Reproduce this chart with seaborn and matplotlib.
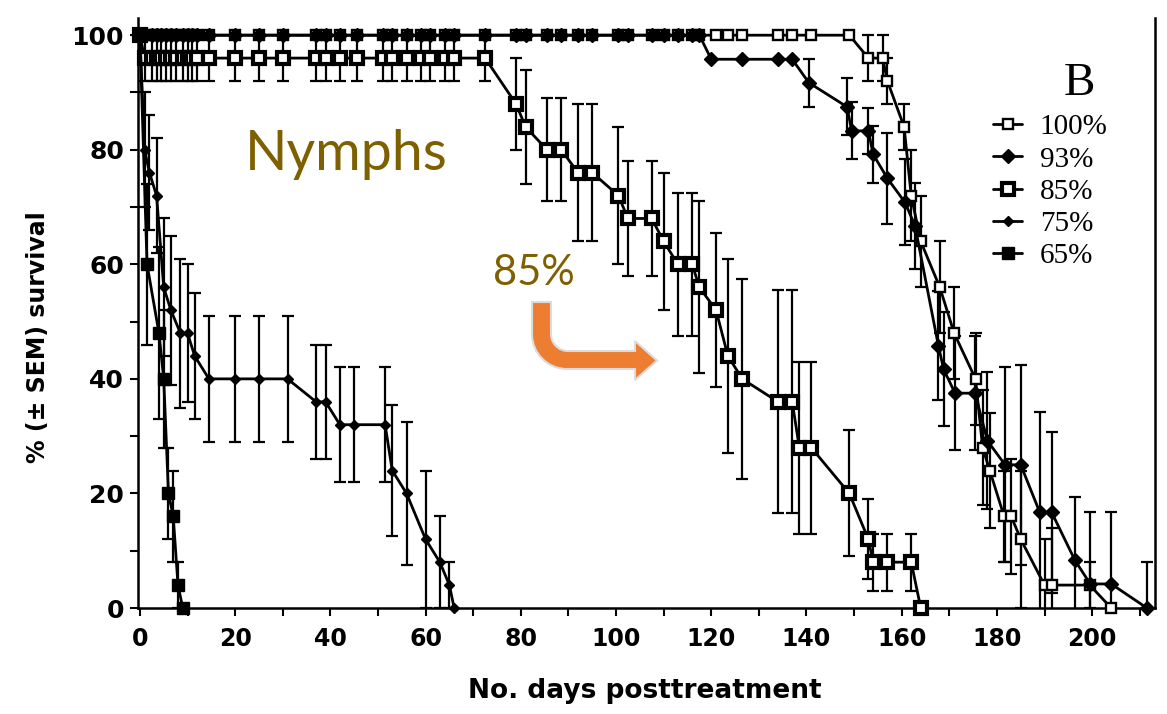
import numpy as np
import pandas as pd
import matplotlib
matplotlib.use("Agg")
import matplotlib.pyplot as plt
import matplotlib.transforms as mtransforms
from matplotlib.path import Path
from matplotlib.patches import PathPatch
from matplotlib.ticker import MultipleLocator
import seaborn as sns

# ------------------------------------------------------------------
# data (days posttreatment, % survival, SEM)
# ------------------------------------------------------------------
days_top = [0, 1, 2.5, 3.5, 4.5, 5.5, 6.5, 7.5, 9, 10, 11, 12, 14.5, 20, 25, 30,
            37, 39, 42, 45.5, 51, 53, 56, 59, 61, 64, 66, 72.5, 79, 81, 85.5,
            88.5, 92, 95, 100.5, 102.5, 107.5, 110, 113, 116, 117.5]

days_100 = days_top + [121, 123.5, 126.5, 134, 137, 141, 149, 153, 156, 157, 160.5,
                       162, 164, 168, 171, 175.5, 177, 178.5, 181.5, 183, 185, 190,
                       191.5, 199.5, 204]
surv_100 = [100, 100, 100, 100, 100, 100, 100, 100, 100, 100, 100, 100, 100, 100,
            100, 100, 100, 100, 100, 100, 100, 100, 100, 100, 100, 100, 100, 100,
            100, 100, 100, 100, 100, 100, 100, 100, 100, 100, 100, 100, 100,
            100, 100, 100, 100, 100, 100, 100, 96, 96, 92, 84, 72, 64, 56, 48, 40,
            28, 24, 16, 16, 12, 4, 4, 4, 0]
sem_100 = [0, 0, 0, 0, 0, 0, 0, 0, 0, 0, 0, 0, 0, 0, 0, 0, 0, 0, 0, 0, 0, 0, 0, 0,
           0, 0, 0, 0, 0, 0, 0, 0, 0, 0, 0, 0, 0, 0, 0, 0, 0,
           0, 0, 0, 0, 0, 0, 0, 4, 4, 4, 4, 8, 8, 8, 8, 8, 10, 10, 8, 10, 12, 8, 10,
           4, 0]

days_93 = days_top + [120, 126.5, 134, 137, 140.5, 148.5, 149.5, 153, 154, 157, 160.7,
                      162.8, 167.7, 168.8, 171.2, 175.4, 178, 181.7, 185, 189, 191.5,
                      196.4, 199.6, 204, 211.5]
surv_93 = [100, 100, 100, 100, 100, 100, 100, 100, 100, 100, 100, 100, 100, 100,
           100, 100, 100, 100, 100, 100, 100, 100, 100, 100, 100, 100, 100, 100,
           100, 100, 100, 100, 100, 100, 100, 100, 100, 100, 100, 100, 100,
           95.8, 95.8, 95.8, 95.8, 91.7, 87.5, 83.3, 83.3, 79.2, 75, 70.8, 66.7,
           45.8, 41.7, 37.5, 37.5, 29.2, 25, 25, 16.7, 16.7, 8.3, 4.2, 4.2, 0]
sem_93 = [0, 0, 0, 0, 0, 0, 0, 0, 0, 0, 0, 0, 0, 0, 0, 0, 0, 0, 0, 0, 0, 0, 0, 0,
          0, 0, 0, 0, 0, 0, 0, 0, 0, 0, 0, 0, 0, 0, 0, 0, 0,
          0, 0, 0, 0, 4.2, 5, 5, 4, 5, 8, 7.5, 7.5, 9.5, 10, 10, 10, 12, 17, 17.5,
          17.5, 14, 11, 12.5, 12.5, 8]

days_85 = [0, 1, 2.5, 3.5, 4.5, 5.5, 6.5, 7.5, 9, 10, 11, 12, 14.5, 20, 25, 30,
           37, 39, 42, 45.5, 51, 53, 56, 59, 61, 64, 66, 72.5, 79, 81, 85.5, 88.5,
           92, 95, 100.5, 102.5, 107.5, 110, 113, 116, 117.5, 121, 123.5, 126.5,
           134, 137, 138.5, 141, 149, 153, 154, 157, 162, 164]
surv_85 = [100, 96, 96, 96, 96, 96, 96, 96, 96, 96, 96, 96, 96, 96, 96, 96, 96, 96,
           96, 96, 96, 96, 96, 96, 96, 96, 96, 96, 88, 84, 80, 80, 76, 76, 72, 68,
           68, 64, 60, 60, 56, 52, 44, 40, 36, 36, 28, 28, 20, 12, 8, 8, 8, 0]
sem_85 = [0, 4, 4, 4, 4, 4, 4, 4, 4, 4, 4, 4, 4, 4, 4, 4, 4, 4, 4, 4, 4, 4, 4, 4,
          4, 4, 4, 4, 8, 10, 9, 9, 12, 12, 12, 10, 10, 12, 12.5, 12.5, 15, 13.5,
          17, 17.5, 19.5, 19.5, 15, 15, 11, 7, 5, 5, 5, 0]

days_75 = [0, 1, 2, 3.5, 5, 6.5, 8.5, 10, 11.5, 14.5, 20, 25, 31, 37, 39, 42, 45,
           51.5, 53, 56, 60, 63, 65, 66]
surv_75 = [100, 80, 76, 72, 56, 52, 48, 48, 44, 40, 40, 40, 40, 36, 36, 32, 32, 32,
           24, 20, 12, 8, 4, 0]
sem_75 = [0, 10, 10, 10, 12, 13, 13, 12, 11, 11, 11, 11, 11, 10, 10, 10, 10, 10,
          11.5, 12.5, 12, 8, 4, 0]

days_65 = [0, 1.5, 4, 5, 6, 7, 8, 9]
surv_65 = [100, 60, 48, 40, 20, 16, 4, 0]
sem_65 = [0, 14, 15, 12, 8, 8, 4, 0]

labels = ["100%", "93%", "85%", "75%", "65%"]

frames = []
for lab, d, s, e in zip(labels,
                        [days_100, days_93, days_85, days_75, days_65],
                        [surv_100, surv_93, surv_85, surv_75, surv_65],
                        [sem_100, sem_93, sem_85, sem_75, sem_65]):
    frames.append(pd.DataFrame({"day": d, "surv": s, "sem": e, "group": lab}))
df = pd.concat(frames, ignore_index=True)

marker_styles = {
    "100%": dict(marker="s", markersize=7.5, markerfacecolor="white", markeredgewidth=1.7),
    "93%": dict(marker="D", markersize=7.5, markerfacecolor="black", markeredgewidth=1.0),
    "85%": dict(marker="s", markersize=8, markerfacecolor="white", markeredgewidth=3.0),
    "75%": dict(marker="D", markersize=5.5, markerfacecolor="black", markeredgewidth=1.0),
    "65%": dict(marker="s", markersize=8.5, markerfacecolor="black", markeredgewidth=1.0),
}

# ------------------------------------------------------------------
# figure
# ------------------------------------------------------------------
sns.set_style("ticks")
plt.rcParams["font.family"] = ["DejaVu Sans"]
plt.rcParams.update({"text.color": "black", "axes.labelcolor": "black",
                     "xtick.color": "black", "ytick.color": "black"})

W, H = 1167, 714
fig = plt.figure(figsize=(W / 100, H / 100), dpi=100)
ax = fig.add_axes([138 / W, (H - 608) / H, (1155 - 138) / W, (608 - 18) / H])
px = mtransforms.Affine2D().scale(1 / W, -1 / H).translate(0, 1) + fig.transFigure

for lab in labels:
    sub = df[df["group"] == lab]
    m = sub["sem"] > 0
    ax.errorbar(sub["day"][m], sub["surv"][m], yerr=sub["sem"][m], fmt="none",
                ecolor="black", elinewidth=1.6, capsize=4.5, capthick=1.6, zorder=2)
    sns.lineplot(data=sub, x="day", y="surv", ax=ax, color="black", linewidth=2.0,
                 estimator=None, sort=False, label=lab, markeredgecolor="black",
                 clip_on=False, zorder=3, **marker_styles[lab])

ax.set_xlim(-0.4, 213.2)
ax.set_ylim(0, 103)
ax.xaxis.set_major_locator(MultipleLocator(20))
ax.xaxis.set_minor_locator(MultipleLocator(10))
ax.yaxis.set_major_locator(MultipleLocator(20))
ax.yaxis.set_minor_locator(MultipleLocator(10))
ax.tick_params(which="both", direction="out", length=6, width=1.5, color="black",
               labelcolor="black")
ax.tick_params(axis="x", which="major", pad=8, labelsize=17)
ax.tick_params(axis="y", which="major", pad=4, labelsize=18)
for t in ax.get_xticklabels() + ax.get_yticklabels():
    t.set_fontweight("bold")

for side in ["left", "bottom", "right"]:
    ax.spines[side].set_linewidth(1.8)
    ax.spines[side].set_color("black")
ax.spines["top"].set_visible(False)

ax.set_xlabel("No. days posttreatment", fontsize=19, fontweight="bold", color="black")
ax.set_ylabel("% (± SEM) survival", fontsize=17, fontweight="bold", color="black")
ax.xaxis.set_label_coords(0.4985, -0.118)
ax.yaxis.set_label_coords(-0.0865, 0.459)

leg = ax.legend(loc="upper left", bbox_to_anchor=(993, 114), bbox_transform=px,
                frameon=False, borderpad=0, borderaxespad=0, handlelength=1.0,
                handletextpad=0.6, labelspacing=0.2,
                prop={"family": "Liberation Serif", "size": 21})
for t in leg.get_texts():
    t.set_color("black")

fig.text(1079, 95, "B", transform=px, ha="center", va="baseline",
         family="Liberation Serif", fontsize=34, color="black")

gold = "#7F6000"
fig.text(245, 170, "Nymphs", transform=px, ha="left", va="baseline",
         family="Lato", fontsize=40, color=gold)
fig.text(493, 285, "85%", transform=px, ha="left", va="baseline",
         family="Lato", fontsize=30, color=gold)

# bent orange arrow (pixel coordinates, y downward)
k = 0.5523
ro, ri = 35, 17
verts = [
    (532, 302), (532, 369 - ro),
    (532, 369 - ro + ro * k), (532 + ro - ro * k, 369), (532 + ro, 369),
    (635, 369), (635, 380), (657, 360.5), (635, 341), (635, 351),
    (551 + ri, 351),
    (551 + ri - ri * k, 351), (551, 351 - ri + ri * k), (551, 351 - ri),
    (551, 302), (532, 302),
]
codes = [Path.MOVETO, Path.LINETO,
         Path.CURVE4, Path.CURVE4, Path.CURVE4,
         Path.LINETO, Path.LINETO, Path.LINETO, Path.LINETO, Path.LINETO,
         Path.LINETO,
         Path.CURVE4, Path.CURVE4, Path.CURVE4,
         Path.LINETO, Path.CLOSEPOLY]
arrow = PathPatch(Path(verts, codes), transform=px, facecolor="#ED7D31",
                  edgecolor="#dcdcdc", linewidth=1.5, zorder=5)
fig.patches.append(arrow)

fig.savefig("out.png", dpi=100)
